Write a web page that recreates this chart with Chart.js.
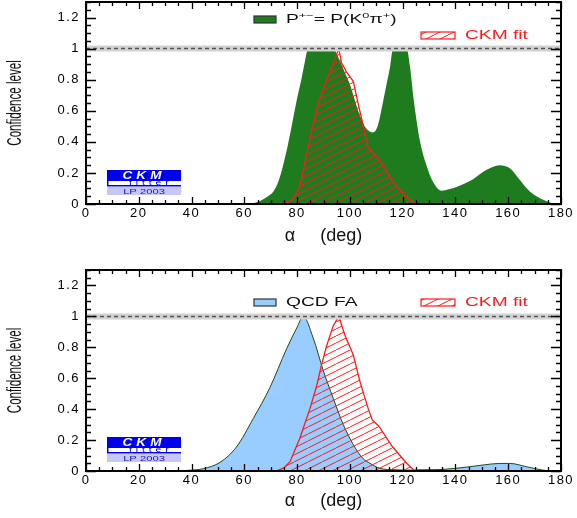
<!DOCTYPE html>
<html>
<head>
<meta charset="utf-8">
<script src="https://cdn.jsdelivr.net/npm/chart.js@4.4.1/dist/chart.umd.min.js"></script>
<style>
  html, body { margin: 0; padding: 0; background: #fff; }
  .panel { position: absolute; left: 0; width: 577px; height: 259px; }
  #p1 { top: 0; }
  #p2 { top: 259px; }
</style>
</head>
<body>
<div class="panel" id="p1"><canvas id="c1"></canvas></div>
<div class="panel" id="p2"><canvas id="c2"></canvas></div>
<script>
// axis ticks
const xTicks = [0, 20, 40, 60, 80, 100, 120, 140, 160, 180];
const yTicks = [0, 0.2, 0.4, 0.6, 0.8, 1, 1.2];
const yTickLabels = ['0', '0.2', '0.4', '0.6', '0.8', '1', '1.2'];

// reference line at CL = 1
const refAlpha = [0, 180];
const refCL = [1, 1];

// top panel: P+- = P(K0 pi+)
const alphaGreen = [60, 63, 66, 69, 71, 73, 74.7, 76.5, 78.5, 80, 81.7, 83, 84.2, 93.5, 96, 98, 100, 102, 104, 106, 108.8, 110.5, 112.6, 114, 115.2, 116.4, 121.5, 122.8, 124.2, 126.5, 129, 131.6, 134.7, 137.5, 140.4, 146.7, 151.8, 156.8, 160.6, 164.4, 168.2, 172, 175.8, 178];
const clGreen    = [0, 0.005, 0.02, 0.05, 0.08, 0.15, 0.25, 0.38, 0.55, 0.68, 0.81, 0.92, 1, 1, 0.93, 0.85, 0.77, 0.66, 0.56, 0.49, 0.46, 0.5, 0.66, 0.78, 0.88, 1, 1, 0.88, 0.67, 0.41, 0.25, 0.14, 0.086, 0.095, 0.11, 0.16, 0.22, 0.25, 0.23, 0.155, 0.08, 0.037, 0.01, 0];

// top panel: CKM fit
const alphaCkmTop = [74, 76.5, 78.5, 81, 83.6, 85.5, 88, 90.5, 93, 95.8, 96.8, 98.7, 101.3, 103.2, 105, 107, 108.8, 112.6, 116.4, 120.2, 124, 125.5];
const clCkmTop    = [0, 0.01, 0.035, 0.11, 0.32, 0.47, 0.64, 0.77, 0.875, 1, 0.91, 0.85, 0.79, 0.64, 0.51, 0.36, 0.33, 0.25, 0.14, 0.07, 0.01, 0];

// bottom panel: QCD FA
const alphaQcd = [30, 36, 39.4, 44.4, 50.8, 57, 63.4, 69.7, 76, 80, 82.3, 86.1, 89.9, 93.7, 97.5, 101.3, 105, 107.6, 111.4, 117, 122.7, 128, 135, 145.5, 151, 156.8, 160.6, 166.9, 173, 177];
const clQcd    = [0, 0.002, 0.005, 0.015, 0.056, 0.155, 0.34, 0.54, 0.79, 0.93, 1, 0.86, 0.65, 0.47, 0.3, 0.17, 0.08, 0.05, 0.017, 0.008, 0.006, 0.008, 0.01, 0.028, 0.04, 0.049, 0.049, 0.028, 0.006, 0];

// bottom panel: CKM fit
const alphaCkmBot = [72, 75, 77.3, 81, 84.8, 87.4, 89.3, 91.2, 93.7, 95.8, 98.1, 101.3, 103.8, 107, 108.5, 111, 116, 121.5, 124.6];
const clCkmBot    = [0, 0.02, 0.06, 0.21, 0.4, 0.55, 0.69, 0.81, 0.94, 1, 0.88, 0.75, 0.58, 0.4, 0.33, 0.29, 0.16, 0.05, 0];

const FONT = '"Liberation Sans", Arial, Helvetica, sans-serif';
const GREEN = '#1e7b1e';
const BLUE = '#99ccff';
const RED = '#ff1a1a';

function pts(xs, ys) {
  return xs.map((x, i) => ({ x: x, y: ys[i] }));
}

function hatchPattern() {
  const c = document.createElement('canvas');
  c.width = 14; c.height = 7;
  const g = c.getContext('2d');
  g.strokeStyle = RED;
  g.lineWidth = 1;
  g.beginPath();
  g.moveTo(-14, 7); g.lineTo(0, 0);
  g.moveTo(0, 7); g.lineTo(14, 0);
  g.moveTo(14, 7); g.lineTo(28, 0);
  g.stroke();
  return g.createPattern(c, 'repeat');
}
const HATCH = hatchPattern();

// stretched text, the original plot has wide lettering
function wideText(ctx, text, x, y, sx, font, color, align) {
  ctx.save();
  ctx.font = font;
  ctx.fillStyle = color;
  ctx.textBaseline = 'middle';
  ctx.textAlign = align || 'left';
  ctx.translate(x, y);
  ctx.scale(sx, 1);
  ctx.fillText(text, 0, 0);
  const w = ctx.measureText(text).width * sx;
  ctx.restore();
  return w;
}

function drawLogo(ctx, lx, ly) {
  ctx.save();
  ctx.fillStyle = '#0000ee';
  ctx.fillRect(lx, ly, 74, 11);
  ctx.letterSpacing = '3px';
  wideText(ctx, 'CKM', lx + 37, ly + 6, 1.35, 'italic bold 10px ' + FONT, '#fff', 'center');
  ctx.letterSpacing = '3px';
  wideText(ctx, 'fitter', lx + 22, ly + 13, 1.3, '8px ' + FONT, '#0000ee', 'left');
  ctx.letterSpacing = '0px';
  ctx.fillStyle = '#0000ee';
  ctx.fillRect(lx, ly + 15, 74, 1.5);
  ctx.fillRect(lx, ly + 11, 1.5, 5);
  ctx.fillStyle = '#c8c8f8';
  ctx.fillRect(lx, ly + 17, 74, 8);
  wideText(ctx, 'LP 2003', lx + 37, ly + 21.5, 1.4, '8px ' + FONT, '#1818c8', 'center');
  ctx.restore();
}

const panelDeco = {
  id: 'panelDeco',
  afterDatasetsDraw(chart, args, opts) {
    const ctx = chart.ctx;
    const a = chart.chartArea;
    const xs = chart.scales.x, ys = chart.scales.y;
    ctx.save();
    // inward ticks on all four sides
    ctx.strokeStyle = '#000';
    ctx.lineWidth = 1.3;
    ctx.beginPath();
    for (let k = 0; k <= 36; k++) {
      const px = Math.round(xs.getPixelForValue(k * 5)) + 0.5;
      const len = k % 4 === 0 ? 7 : 4;
      ctx.moveTo(px, a.bottom); ctx.lineTo(px, a.bottom - len);
      ctx.moveTo(px, a.top); ctx.lineTo(px, a.top + len);
    }
    for (let k = 0; k <= 26; k++) {
      const py = Math.round(ys.getPixelForValue(k * 0.05)) + 0.5;
      const len = k % 4 === 0 ? 10 : 5;
      ctx.moveTo(a.left, py); ctx.lineTo(a.left + len, py);
      ctx.moveTo(a.right, py); ctx.lineTo(a.right - len, py);
    }
    ctx.stroke();
    ctx.lineWidth = 2;
    ctx.strokeRect(a.left, a.top, a.right - a.left, a.bottom - a.top);

    // legend
    opts.items.forEach(it => {
      if (it.hatch) {
        ctx.fillStyle = HATCH;
        ctx.fillRect(it.x, it.y, it.w, it.h);
        ctx.strokeStyle = RED;
      } else {
        ctx.fillStyle = it.fill;
        ctx.fillRect(it.x, it.y, it.w, it.h);
        ctx.strokeStyle = '#333';
      }
      ctx.lineWidth = 1.2;
      ctx.strokeRect(it.x, it.y, it.w, it.h);
      let tx = it.x + it.w + 10;
      const ty = it.y + it.h / 2;
      it.parts.forEach(p => {
        const f = p[1] ? '8px ' + FONT : '12px ' + FONT;
        tx += wideText(ctx, p[0], tx, p[1] ? ty - 4 : ty, 1.6, f, it.textColor, 'left');
      });
    });

    // y axis title, tall and narrow as in the original
    ctx.save();
    ctx.translate(15, (a.top + a.bottom) / 2);
    ctx.rotate(-Math.PI / 2);
    ctx.scale(0.55, 1);
    ctx.font = '21px ' + FONT;
    ctx.fillStyle = '#111';
    ctx.textAlign = 'center';
    ctx.textBaseline = 'middle';
    ctx.fillText('Confidence level', 0, 0);
    ctx.restore();

    drawLogo(ctx, a.left + 21, a.bottom - 34);
    ctx.restore();
    // wide tick labels come next
    ctx.letterSpacing = '1.5px';
  },
  afterDraw(chart) {
    chart.ctx.letterSpacing = '0px';
  }
};

function makeChart(id, fillData, fillColor, fillBorder, ckmData, items, padTop, xAxisH, xTitlePad) {
  return new Chart(document.getElementById(id), {
    type: 'line',
    data: {
      datasets: [
        {
          data: pts(refAlpha, refCL),
          borderColor: '#555',
          borderWidth: 1.5,
          borderDash: [4, 3],
          pointRadius: 0,
          fill: false,
          order: 0
        },
        {
          data: pts(refAlpha, refCL),
          borderColor: '#d2d2d2',
          borderWidth: 6,
          pointRadius: 0,
          fill: false,
          order: 1
        },
        {
          data: ckmData,
          borderColor: RED,
          borderWidth: 1.3,
          backgroundColor: HATCH,
          pointRadius: 0,
          tension: 0,
          fill: 'origin',
          order: 2
        },
        {
          data: fillData,
          borderColor: fillBorder,
          borderWidth: fillBorder === fillColor ? 0 : 1,
          backgroundColor: fillColor,
          pointRadius: 0,
          cubicInterpolationMode: 'monotone',
          fill: 'origin',
          order: 3
        }
      ]
    },
    options: {
      responsive: true,
      maintainAspectRatio: false,
      animation: false,
      devicePixelRatio: 1,
      layout: { padding: { left: 0, right: 16, top: padTop, bottom: 0 } },
      plugins: {
        legend: { display: false },
        tooltip: { enabled: false },
        panelDeco: { items: items }
      },
      scales: {
        x: {
          type: 'linear',
          min: 0,
          max: 180,
          afterFit: s => { s.height = xAxisH; s.paddingLeft = 0; s.paddingRight = 0; },
          afterBuildTicks: s => { s.ticks = xTicks.map(v => ({ value: v })); },
          grid: { display: false, drawTicks: false },
          border: { display: false },
          ticks: {
            z: 1,
            padding: 2,
            color: '#000',
            font: { family: FONT, size: 13 },
            maxRotation: 0,
            callback: v => String(v)
          },
          title: {
            display: true,
            text: 'α     (deg)',
            color: '#111',
            font: { family: FONT, size: 18 },
            padding: { top: 0, bottom: xTitlePad }
          }
        },
        y: {
          min: 0,
          max: 1.3,
          afterFit: s => { s.width = 86; s.paddingTop = 0; s.paddingBottom = 0; },
          afterBuildTicks: s => { s.ticks = yTicks.map(v => ({ value: v })); },
          grid: { display: false, drawTicks: false },
          border: { display: false },
          ticks: {
            z: 1,
            padding: 6,
            color: '#000',
            font: { family: FONT, size: 13 },
            callback: (v, i) => yTickLabels[i]
          }
        }
      }
    },
    plugins: [panelDeco]
  });
}

makeChart('c1', pts(alphaGreen, clGreen), GREEN, GREEN, pts(alphaCkmTop, clCkmTop), [
  { x: 254, y: 16, w: 22, h: 7, fill: GREEN, textColor: '#111',
    parts: [['P', 0], ['+−', 1], ['= P(K', 0], ['0', 1], ['π', 0], ['+', 1], [')', 0]] },
  { x: 421, y: 32, w: 34, h: 7, hatch: true, textColor: RED, parts: [['CKM fit', 0]] }
], 2, 55, 12);

makeChart('c2', pts(alphaQcd, clQcd), BLUE, '#1d4a1d', pts(alphaCkmBot, clCkmBot), [
  { x: 254, y: 40, w: 22, h: 7, fill: BLUE, textColor: '#111', parts: [['QCD FA', 0]] },
  { x: 421, y: 40, w: 34, h: 7, hatch: true, textColor: RED, parts: [['CKM fit', 0]] }
], 11, 47, 6);
</script>
</body>
</html>
